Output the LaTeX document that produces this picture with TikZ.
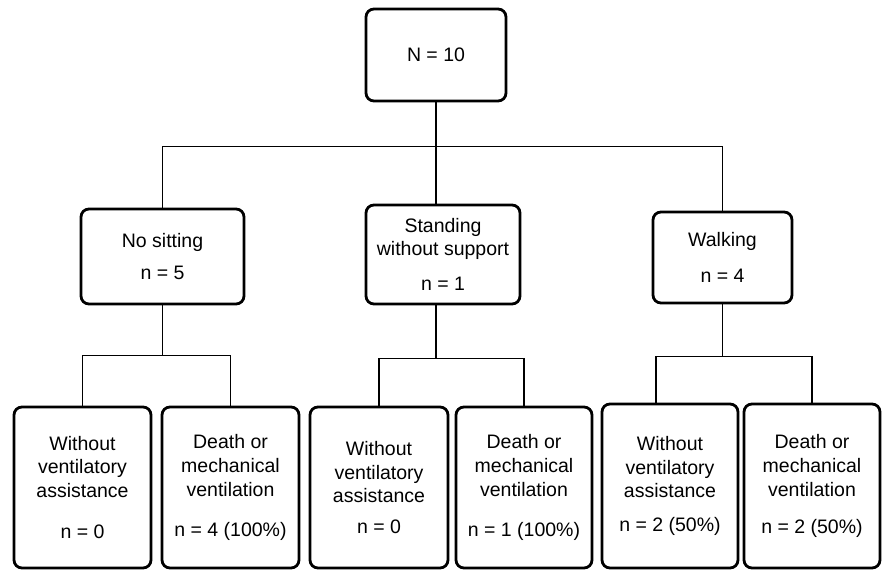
\documentclass[tikz,border=0pt]{standalone}
\usepackage{fontspec}
\setmainfont{Liberation Sans}

\begin{document}
\begin{tikzpicture}[x = 0.02cm, y = -0.02cm,
  box/.style = {draw, line width = 1.6pt, rounded corners = 4.5pt, align = center,
                inner sep = 0pt, font = \fontsize{11.1}{13.4}\selectfont},
  conn/.style = {line width = 0.8pt}]
\useasboundingbox (0,0) rectangle (882,570);

% top
\node [box, minimum width = 2.8cm, minimum height = 1.84cm] (root) at (436, 55) {N = 10};

% second row
\node [box, minimum width = 3.26cm, minimum height = 1.9cm] (nosit) at (162.5, 256.5) {No sitting\\[4.8pt] n = 5};
\node [box, minimum width = 3.08cm, minimum height = 1.98cm] (stand) at (443, 254.5) {Standing\\ without support\\[6.5pt] n = 1};
\node [box, minimum width = 2.78cm, minimum height = 1.82cm] (walk) at (722.5, 257.5) {Walking\\[7pt] n = 4};

% third row
\node [box, minimum width = 2.74cm, minimum height = 3.22cm] (b1) at (82.5, 487.5) {Without\\ ventilatory\\ assistance\\[10pt] n = 0};
\node [box, minimum width = 2.74cm, minimum height = 3.22cm] (b2) at (230.5, 487.5) {Death or\\ mechanical\\ ventilation\\[9.4pt] n = 4 (100\%)};
\node [box, minimum width = 2.76cm, minimum height = 3.22cm] (b3) at (379, 487.5) {Without\\ ventilatory\\ assistance\\[3.7pt] n = 0};
\node [box, minimum width = 2.72cm, minimum height = 3.22cm] (b4) at (524, 487.5) {Death or\\ mechanical\\ ventilation\\[9.4pt] n = 1 (100\%)};
\node [box, minimum width = 2.72cm, minimum height = 3.28cm] (b5) at (670, 486) {Without\\ ventilatory\\ assistance\\[6pt] n = 2 (50\%)};
\node [box, minimum width = 2.72cm, minimum height = 3.28cm] (b6) at (812, 486) {Death or\\ mechanical\\ ventilation\\[7.7pt] n = 2 (50\%)};

% connectors
\draw [conn] (root.south) -- ++(0, 44) coordinate (s0);
\draw [conn] (nosit.north) |- (s0) -| (walk.north);
\draw [conn] (s0) -- (stand.north -| s0);

\draw [conn] (nosit.south) -- ++(0, 50) coordinate (s1);
\draw [conn] (b1.north) |- (s1) -| (b2.north);

\draw [conn] (stand.south -| s0) -- ++(0, 53) coordinate (s2);
\draw [conn] (b3.north) |- (s2) -| (b4.north);

\draw [conn] (walk.south) -- ++(0, 52) coordinate (s3);
\draw [conn] ([xshift = -0.28cm]b5.north) |- (s3) -| (b6.north);
\end{tikzpicture}
\end{document}
